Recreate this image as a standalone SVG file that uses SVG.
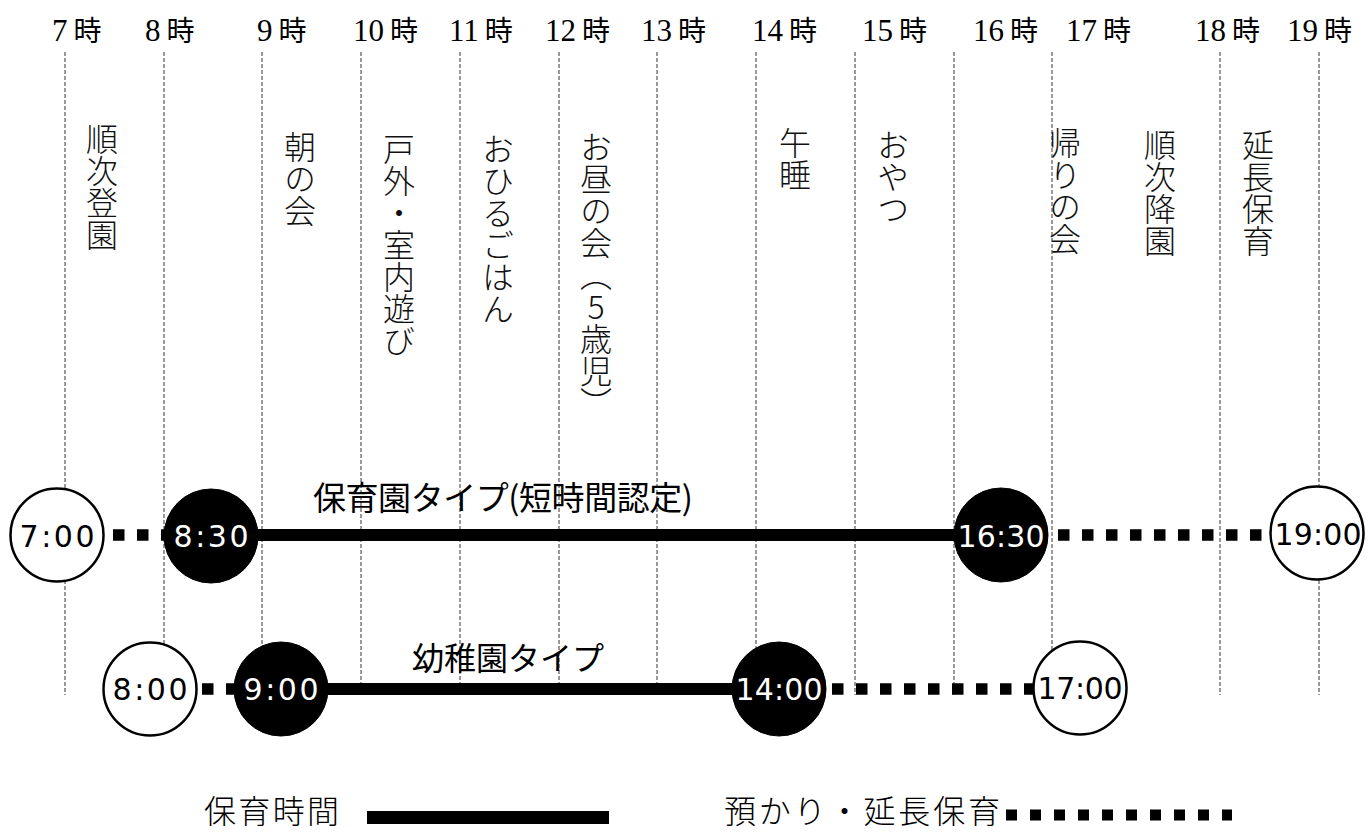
<svg xmlns="http://www.w3.org/2000/svg" width="1368" height="832" viewBox="0 0 1368 832">
<style>
.hour{font-family:"Liberation Serif","Noto Sans CJK JP",serif;font-size:31px;fill:#000}
.hour .j{font-family:"Noto Sans CJK JP",sans-serif;font-size:28px}
.grid line{stroke:#333;stroke-width:1;stroke-dasharray:4 2}
.act{font-family:"Noto Sans CJK JP",sans-serif;font-size:32px;font-weight:300;fill:#111;writing-mode:vertical-rl}
.solid{stroke:#000;stroke-width:12;fill:none}
.dot{stroke:#000;stroke-width:11.5;fill:none;stroke-dasharray:11.5 12.5}
.open circle{fill:#fff;stroke:#000;stroke-width:2.5}
.fill circle{fill:#000;stroke:#000;stroke-width:1}
.time{font-family:"DejaVu Sans",sans-serif;font-size:30px;text-anchor:middle}
.open .time{fill:#000}
.fill .time{fill:#fff}
.title{font-family:"Noto Sans CJK JP",sans-serif;font-size:33px;fill:#000}
.legend{font-family:"Noto Sans CJK JP",sans-serif;font-size:32px;font-weight:300;fill:#000}
</style>

<g id="grid" class="grid">
<line x1="65" y1="52" x2="65" y2="695"/>
<line x1="164" y1="52" x2="164" y2="695"/>
<line x1="262" y1="52" x2="262" y2="695"/>
<line x1="361" y1="52" x2="361" y2="695"/>
<line x1="460" y1="52" x2="460" y2="695"/>
<line x1="559" y1="52" x2="559" y2="695"/>
<line x1="657" y1="52" x2="657" y2="695"/>
<line x1="756" y1="52" x2="756" y2="695"/>
<line x1="855" y1="52" x2="855" y2="695"/>
<line x1="954" y1="52" x2="954" y2="695"/>
<line x1="1052" y1="52" x2="1052" y2="695"/>
<line x1="1220" y1="52" x2="1220" y2="695"/>
<line x1="1319" y1="52" x2="1319" y2="695"/>
</g>

<g id="hours" class="hour">
<text x="52" y="41">7<tspan class="j" dx="6">時</tspan></text>
<text x="145" y="41">8<tspan class="j" dx="6">時</tspan></text>
<text x="257" y="41">9<tspan class="j" dx="6">時</tspan></text>
<text x="353" y="41">10<tspan class="j" dx="6">時</tspan></text>
<text x="449" y="41">11<tspan class="j" dx="6">時</tspan></text>
<text x="545" y="41">12<tspan class="j" dx="6">時</tspan></text>
<text x="641" y="41">13<tspan class="j" dx="6">時</tspan></text>
<text x="752" y="41">14<tspan class="j" dx="6">時</tspan></text>
<text x="862" y="41">15<tspan class="j" dx="6">時</tspan></text>
<text x="973" y="41">16<tspan class="j" dx="6">時</tspan></text>
<text x="1066" y="41">17<tspan class="j" dx="6">時</tspan></text>
<text x="1195" y="41">18<tspan class="j" dx="6">時</tspan></text>
<text x="1287" y="41">19<tspan class="j" dx="6">時</tspan></text>
</g>

<g id="activities">
<text class="act" x="102" y="123">順次登園</text>
<text class="act" x="300" y="131">朝の会</text>
<text class="act" x="399" y="133">戸外・室内遊び</text>
<text class="act" x="498" y="133">おひるごはん</text>
<text class="act" x="596" y="131" style="text-orientation:upright">お昼の会（5歳児）</text>
<text class="act" x="795" y="127">午睡</text>
<text class="act" x="893" y="129">おやつ</text>
<text class="act" x="1065" y="127">帰りの会</text>
<text class="act" x="1160" y="129">順次降園</text>
<text class="act" x="1258" y="129">延長保育</text>
</g>

<g id="connectors">
<line class="solid" x1="211" y1="535" x2="1001" y2="535"/>
<line class="dot" x1="113" y1="535" x2="211" y2="535"/>
<line class="dot" x1="1058" y1="535" x2="1317" y2="535"/>
<line class="solid" x1="281" y1="689" x2="779" y2="689"/>
<line class="dot" x1="202" y1="689" x2="281" y2="689"/>
<line class="dot" x1="832" y1="689" x2="1080" y2="689"/>
</g>

<g id="title-hoikuen"><text class="title" x="313" y="510" textLength="380">保育園タイプ(短時間認定)</text></g>
<g id="title-youchien"><text class="title" x="412" y="670" textLength="192" style="font-size:32px">幼稚園タイプ</text></g>

<g id="n-0700" class="open"><circle cx="57" cy="535" r="46.5"/><text class="time" x="57" y="547" textLength="75">7:00</text></g>
<g id="n-0830" class="fill"><circle cx="211" cy="536" r="47"/><text class="time" x="211" y="547" textLength="75">8:30</text></g>
<g id="n-1630" class="fill"><circle cx="1001" cy="535" r="47"/><text class="time" x="1001" y="547" textLength="87">16:30</text></g>
<g id="n-1900" class="open"><circle cx="1317" cy="533" r="46.5"/><text class="time" x="1318" y="545" textLength="87">19:00</text></g>

<g id="n-0800" class="open"><circle cx="150" cy="689" r="46.5"/><text class="time" x="150" y="700" textLength="75">8:00</text></g>
<g id="n-0900" class="fill"><circle cx="281" cy="689" r="47"/><text class="time" x="281" y="700" textLength="75">9:00</text></g>
<g id="n-1400" class="fill"><circle cx="779" cy="689" r="47"/><text class="time" x="779" y="700" textLength="87">14:00</text></g>
<g id="n-1700" class="open"><circle cx="1080" cy="688" r="46.5"/><text class="time" x="1080" y="699" textLength="85">17:00</text></g>

<g id="legend">
<text class="legend" x="204" y="823" textLength="135">保育時間</text>
<rect x="367" y="811" width="242" height="13" fill="#000"/>
<text class="legend" x="724" y="823" textLength="276">預かり・延長保育</text>
<line x1="1006" y1="815" x2="1232" y2="815" stroke="#000" stroke-width="11" stroke-dasharray="11 13"/>
</g>
</svg>
